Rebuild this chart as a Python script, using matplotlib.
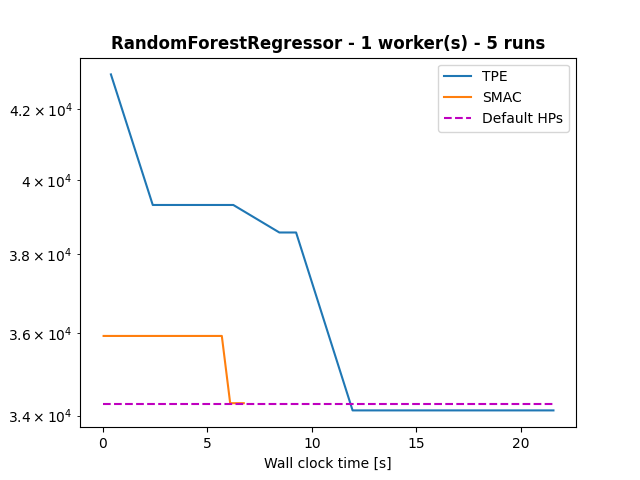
import matplotlib
matplotlib.use("Agg")
import matplotlib.pyplot as plt

tpe_time = [0.4, 2.4, 6.25, 8.45, 9.25, 11.95, 21.55]
tpe_value = [43030, 39320, 39320, 38580, 38580, 34120, 34120]

smac_time = [0.05, 5.7, 6.1, 6.75]
smac_value = [35920, 35920, 34290, 34290]

default_time = [0.0, 21.55]
default_value = [34260, 34260]

fig, ax = plt.subplots(figsize=(6.4, 4.8), dpi=100)
ax.plot(tpe_time, tpe_value, label="TPE")
ax.plot(smac_time, smac_value, label="SMAC")
ax.plot(default_time, default_value, linestyle="--", color="m", label="Default HPs")
ax.set_yscale("log")
ax.set_xlabel("Wall clock time [s]")
ax.set_title("RandomForestRegressor - 1 worker(s) - 5 runs", fontweight="bold")
ax.legend(loc="upper right")
fig.savefig("out.png")
